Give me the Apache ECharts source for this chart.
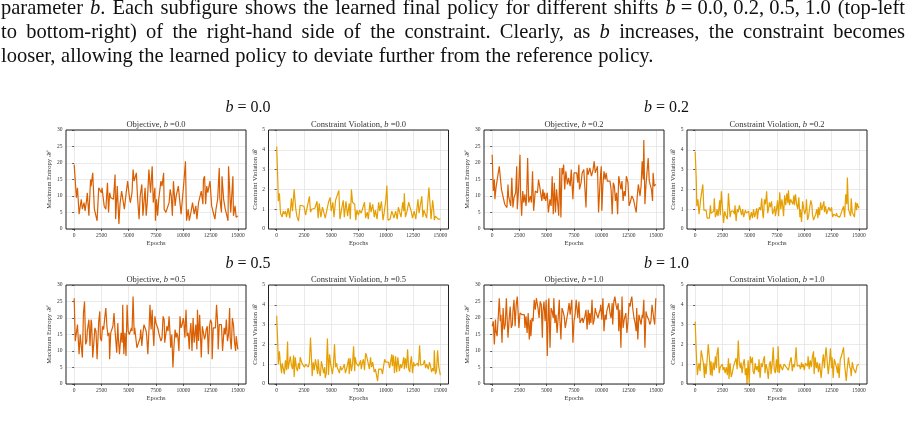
<!DOCTYPE html>
<html>
<head>
<meta charset="utf-8">
<style>
  html, body { margin: 0; padding: 0; background: #fff; }
  #main { width: 914px; height: 433px; }
</style>
</head>
<body>
<div id="main"></div>
<script src="https://cdn.jsdelivr.net/npm/echarts@6/dist/echarts.min.js"></script>
<script>
  // tick labels shared by all panels
  const epochTicks = [0, 2500, 5000, 7500, 10000, 12500, 15000];
  const shifts = ['0.0', '0.2', '0.5', '1.0'];

  // [epoch, value]
  const obj00 = [[0,19.5],[50,17],[200,9.5],[300,12.5],[450,4.5],[600,4],[650,9],[750,6],[900,8],[1000,5.5],
    [1150,9],[1200,11],[1350,4],[1500,15],[1550,13],[1700,17],[1850,6],[1950,5.5],[2100,2.5],[2250,12.5],
    [2400,13],[2500,11],[2550,12.5],[2750,7],[2900,6],[3050,14],[3150,5],[3250,11],[3350,9.5],[3450,10],
    [3600,9],[3750,16.5],[3800,3],[3950,13],[4100,1.5],[4200,7.5],[4350,11.5],[4450,12],[4600,6],[4750,10.5],[4900,14.5],
    [5050,10],[5150,8],[5300,11],[5400,18],[5500,14.5],[5700,17],[5800,10],[5950,3],[6050,10],[6200,13.5],
    [6300,4],[6500,12.5],[6600,4],[6700,8],[6850,18],[7000,11],[7150,19],[7250,8],[7400,12.5],[7450,2.5],
    [7550,9],[7650,4],[7750,9],[7950,14.5],[8050,13],[8200,17],[8250,6],[8400,5],[8550,5.5],[8700,8],
    [8800,12],[8900,10],[9000,4],[9100,14.5],[9250,7],[9350,10],[9450,10.5],[9550,13],[9650,9.5],[9800,4.5],[9950,5],
    [10050,14],[10200,20.5],[10300,2.5],[10450,6],[10550,2.5],[10700,5],[10850,8],[11000,4.5],[11150,7],[11250,3],
    [11400,8],[11550,8.5],[11650,11.5],[11800,7.5],[11850,15],[11950,16],[12050,7.5],[12150,13],[12250,11],[12450,14.5],
    [12600,7],[12750,5],[12900,3],[13000,6],[13150,9],[13300,18.5],[13350,9.5],[13500,5],[13550,16],[13700,9],
    [13850,6],[14000,4],[14100,2.5],[14150,19],[14350,5],[14550,16],[14600,4],[14750,7],[14850,3.5],[15000,4]];

  const con00 = [[0,4.17],[100,2.5],[150,1.4],[250,1.8],[350,0.8],[500,0.6],[600,0.9],[700,0.75],[800,0.9],[900,0.6],
    [1050,1.05],[1200,0.55],[1350,1.55],[1450,0.9],[1600,2.0],[1750,1.0],[1850,0.65],[2000,0.4],[2150,1.2],[2300,1.2],
    [2500,1.15],[2650,0.7],[2800,0.7],[3000,1.65],[3100,0.85],[3200,1.0],[3350,0.95],[3500,1.05],[3700,1.4],[3800,0.55],
    [3900,1.3],[4050,0.6],[4200,1.1],[4350,1.05],[4450,0.55],[4600,0.95],[4750,1.35],[4900,1.6],[5000,0.9],[5150,1.35],
    [5250,0.6],[5400,1.45],[5550,1.4],[5700,1.95],[5800,0.5],[5950,1.0],[6100,1.45],[6200,0.6],[6350,1.4],[6500,0.65],
    [6650,1.3],[6750,0.5],[6850,2.0],[6950,1.35],[7150,1.25],[7250,0.45],[7350,0.95],[7500,0.7],[7600,0.95],[7750,0.8],
    [7900,0.9],[8050,1.35],[8150,0.55],[8300,0.85],[8400,0.5],[8550,1.35],[8650,0.85],[8800,1.25],[8950,0.6],[9050,0.95],
    [9200,0.5],[9350,1.35],[9450,0.9],[9600,1.4],[9750,0.45],[9850,0.8],[10000,1.45],[10100,2.2],[10200,0.45],[10300,0.5],
    [10400,0.5],[10550,0.9],[10650,0.75],[10750,0.55],[10900,0.9],[11050,0.5],[11150,1.1],[11300,0.8],[11400,0.6],[11550,1.35],
    [11650,0.9],[11700,1.8],[11800,0.6],[11950,0.9],[12100,1.35],[12200,1.25],[12350,0.85],[12450,0.55],[12600,0.9],[12750,0.5],
    [12850,1.0],[12950,1.5],[13050,0.8],[13200,1.3],[13300,1.65],[13400,0.6],[13500,0.95],[13600,1.05],[13750,0.55],[13850,0.5],
    [13950,2.1],[14100,0.95],[14150,0.5],[14300,1.45],[14400,0.9],[14450,0.45],[14550,0.65],[14700,0.55],[14800,0.5],[15000,0.5]];

  const obj02 = [[0,22.5],[100,11.5],[200,15],[250,9],[350,12.5],[500,13],[650,19],[750,18.5],[850,12],[1000,12],
    [1150,7.5],[1200,7],[1350,6.5],[1450,13.5],[1500,10],[1600,10.5],[1700,7],[1800,15.5],[1900,6.5],[2000,9.5],
    [2150,11],[2250,19],[2300,6],[2400,11],[2550,22.5],[2600,11],[2700,4],[2800,11.5],[2900,8],[3000,10.5],
    [3100,7],[3150,9],[3250,21.5],[3350,8],[3500,10],[3600,8],[3700,17.5],[3800,5.5],[3950,11.5],[4050,11],
    [4150,11],[4250,15],[4350,13],[4450,13.5],[4550,8.5],[4650,12],[4750,9],[4800,11],[4900,8.5],[5050,11],
    [5150,5],[5300,9],[5400,7],[5500,16],[5600,4.5],[5700,14],[5800,5],[5900,12],[6000,8],[6100,4],
    [6200,18.5],[6300,3.5],[6400,18.5],[6450,16.5],[6550,19.5],[6650,12],[6750,17.5],[6900,13.5],[7000,15.5],[7150,13],
    [7250,18],[7400,9],[7500,17],[7650,16.5],[7750,17],[7850,14],[7950,19.5],[8000,12],[8150,14],[8250,17],
    [8400,18],[8550,17.5],[8600,6.5],[8700,18.5],[8800,16.5],[8950,18.5],[9100,16],[9250,18],[9350,20.5],[9450,17],
    [9600,17.5],[9650,19],[9750,5],[9900,15],[10000,19],[10050,5.5],[10150,13.5],[10250,17.5],[10350,15],[10450,17],
    [10550,14.5],[10700,15],[10800,14.5],[10900,12],[11000,4.5],[11100,14],[11200,13],[11300,8.5],[11400,11],[11500,4.5],
    [11600,16],[11700,14],[11800,12],[11900,14.5],[12000,8.5],[12100,11.5],[12200,10],[12300,16],[12450,14],[12550,7],
    [12650,8],[12800,10],[12950,9],[13100,9],[13200,5],[13300,10],[13400,13.5],[13550,10],[13650,13],[13750,20.5],
    [13850,15],[13900,27],[14000,7.5],[14100,13.5],[14200,13],[14300,21.5],[14400,14.5],[14500,15],[14600,12],[14700,8.5],
    [14750,17],[14850,13],[15000,13.5]];

  const con02 = [[0,3.9],[100,2.5],[150,1.15],[250,1.5],[350,0.75],[450,1.2],[500,1.5],[650,1.6],[700,2.25],[800,0.95],
    [900,0.9],[1000,0.95],[1100,0.55],[1200,0.45],[1300,0.55],[1400,1.2],[1450,0.8],[1550,0.75],[1700,0.9],[1750,1.55],
    [1850,0.6],[1950,0.75],[2000,1.0],[2100,0.65],[2250,1.45],[2300,0.7],[2400,1.9],[2500,1.1],[2600,0.3],[2700,0.9],
    [2800,0.7],[2900,0.8],[2950,0.5],[3050,1.8],[3100,1.7],[3200,0.6],[3300,0.9],[3400,0.8],[3500,0.9],[3600,0.75],
    [3650,1.2],[3750,0.4],[3850,1.0],[3950,0.85],[4050,1.2],[4150,1.3],[4250,0.7],[4350,1.0],[4450,0.6],[4600,0.95],
    [4700,0.8],[4750,0.75],[4900,0.9],[5000,0.45],[5100,0.35],[5150,0.85],[5250,0.55],[5350,1.0],[5450,0.6],[5550,0.6],
    [5650,1.05],[5700,0.5],[5800,0.95],[5900,1.1],[6000,0.95],[6100,1.55],[6200,0.7],[6250,0.55],[6350,1.5],[6450,1.25],
    [6550,1.9],[6650,0.8],[6750,1.1],[6800,1.35],[6900,1.1],[7000,1.4],[7100,0.75],[7200,0.9],[7300,1.15],[7350,0.65],
    [7450,0.95],[7550,1.45],[7650,0.65],[7750,1.85],[7850,1.0],[7950,1.5],[8000,1.3],[8100,0.65],[8200,1.7],[8300,1.2],
    [8400,1.8],[8500,1.3],[8550,1.95],[8650,1.2],[8750,1.5],[8850,1.6],[8950,1.25],[9050,1.7],[9100,1.2],[9200,1.75],
    [9300,1.25],[9400,1.0],[9500,1.6],[9600,0.6],[9650,1.0],[9750,0.35],[9850,1.4],[9950,1.0],[10050,0.75],[10150,1.0],
    [10200,1.5],[10300,0.45],[10400,0.65],[10500,1.1],[10600,1.45],[10700,1.2],[10750,0.75],[10850,0.45],[10950,0.4],[11050,0.75],
    [11150,1.0],[11250,0.55],[11300,1.1],[11400,0.7],[11500,1.35],[11600,0.95],[11700,1.0],[11800,1.4],[11850,0.85],[11950,1.15],
    [12050,0.75],[12150,0.65],[12250,1.1],[12350,1.0],[12400,0.9],[12500,1.1],[12600,0.6],[12700,0.75],[12800,0.7],[12900,0.65],
    [12950,0.8],[13050,0.65],[13150,0.75],[13250,0.6],[13350,0.75],[13450,0.7],[13500,0.65],[13600,1.15],[13700,0.6],[13800,1.75],
    [13900,1.25],[13950,2.6],[14050,1.0],[14150,0.95],[14250,0.65],[14300,1.55],[14400,0.85],[14500,0.95],[14600,0.6],[14700,1.35],
    [14800,0.95],[14850,1.3],[15000,1.05]];

  const obj05 = [[0,26],[100,13],[200,13],[300,18],[350,17.5],[450,9],[550,15],[650,14.5],[750,8],[850,21.5],
    [950,25],[1050,12],[1150,13],[1200,16],[1350,19.5],[1450,11.5],[1550,19.5],[1600,18.5],[1700,8],[1800,8],
    [1900,17],[2000,16],[2100,7.5],[2250,19],[2350,22],[2400,14],[2500,13],[2600,17.5],[2700,16.5],[2800,20],
    [2900,23],[3000,17.5],[3100,14.5],[3200,15.5],[3250,7.5],[3350,15.5],[3450,15],[3550,17.5],[3650,21.5],[3750,16],
    [3900,9.5],[4000,18.5],[4050,14],[4150,9],[4300,15.5],[4400,12.5],[4450,24],[4550,9],[4650,15.5],[4750,8.5],
    [4850,24],[4950,16],[5050,15],[5150,15],[5250,17],[5300,16],[5400,26.5],[5500,15],[5550,17],[5650,17.5],
    [5750,11],[5850,10.5],[5950,13],[6050,14],[6100,16.5],[6200,11.5],[6300,15.5],[6400,18],[6500,17.5],[6600,16],
    [6650,14.5],[6750,9],[6850,16],[6950,24],[7050,16.5],[7150,22.5],[7200,17.5],[7300,11.5],[7400,20.5],[7500,18.5],
    [7600,17.5],[7700,16.5],[7750,15.5],[7850,16],[7950,13],[8050,14],[8150,20.5],[8250,19.5],[8300,12.5],[8400,15],
    [8500,17.5],[8600,16],[8700,20.5],[8800,14.5],[8850,11],[8950,15],[9050,5],[9150,11.5],[9250,16.5],[9350,14],
    [9400,15.5],[9500,14.5],[9600,10],[9700,20.5],[9800,17],[9900,18],[10000,20],[10050,19],[10150,14],[10250,22.5],
    [10350,14.5],[10450,15.5],[10550,10.5],[10600,15],[10700,18.5],[10800,10],[10900,20],[11000,12.5],[11100,12],[11150,18],
    [11250,10.5],[11300,22.5],[11400,13],[11500,21],[11550,17],[11650,8],[11750,17.5],[11850,18],[11950,13.5],[12050,15],
    [12100,16.5],[12200,17.5],[12300,9],[12400,17.5],[12500,19.5],[12600,18.5],[12650,7.5],[12750,17],[12850,17.5],[12950,17],
    [13050,24],[13150,18.5],[13200,10.5],[13300,18],[13400,17.5],[13500,18],[13600,10],[13700,10.5],[13750,17],[13850,15],
    [13950,19.5],[14050,13],[14150,15],[14250,23],[14300,14],[14400,10.5],[14500,20],[14600,18],[14700,12.5],[14800,10],
    [14850,14.5],[15000,10.5]];

  const con05 = [[0,3.45],[100,2.0],[150,1.0],[250,1.65],[350,0.95],[450,0.55],[500,1.05],[600,0.8],[700,0.5],[800,1.2],
    [900,0.7],[1000,2.15],[1050,0.75],[1150,0.85],[1250,1.4],[1350,0.95],[1450,0.75],[1550,1.45],[1600,0.35],[1700,1.35],
    [1800,0.85],[1900,0.65],[2000,1.05],[2100,0.75],[2150,1.35],[2250,1.45],[2350,1.0],[2450,0.95],[2550,0.85],[2650,1.0],
    [2700,0.9],[2800,1.0],[2900,0.85],[3000,1.1],[3100,2.35],[3200,1.2],[3250,0.4],[3350,1.1],[3450,0.7],[3550,1.25],
    [3650,0.9],[3750,0.5],[3800,1.25],[3900,0.65],[4000,0.4],[4100,1.15],[4200,1.25],[4300,0.55],[4400,0.85],[4450,0.3],
    [4550,0.55],[4650,2.3],[4750,0.45],[4850,1.5],[4950,1.0],[5000,0.85],[5100,0.5],[5200,0.9],[5300,2.0],[5400,0.85],
    [5500,1.05],[5550,0.85],[5650,0.7],[5750,0.55],[5850,0.9],[5950,0.7],[6050,0.65],[6100,0.85],[6200,1.0],[6300,0.55],
    [6400,0.75],[6500,1.0],[6600,1.3],[6650,0.5],[6750,1.3],[6850,0.65],[6950,1.0],[7050,1.9],[7150,0.65],[7200,1.35],
    [7300,1.05],[7400,1.15],[7500,0.9],[7600,0.8],[7700,1.2],[7750,0.75],[7850,1.05],[7950,1.25],[8050,0.7],[8150,1.55],
    [8250,1.4],[8300,1.35],[8400,1.3],[8500,0.75],[8600,1.35],[8700,0.85],[8800,1.1],[8850,1.05],[8950,0.6],[9050,0.75],
    [9150,0.85],[9250,0.15],[9350,0.75],[9400,0.8],[9500,0.8],[9600,0.75],[9700,0.5],[9800,0.9],[9900,1.25],[10000,1.1],
    [10050,1.0],[10150,1.1],[10250,1.1],[10350,0.8],[10450,0.7],[10550,1.5],[10600,0.9],[10700,1.45],[10800,0.55],[10900,1.4],
    [11000,0.6],[11100,1.35],[11150,1.3],[11250,0.65],[11350,1.0],[11450,0.8],[11550,1.05],[11650,1.35],[11700,0.75],[11800,1.3],
    [11900,0.8],[12000,1.75],[12100,0.75],[12200,0.6],[12250,1.0],[12350,1.4],[12450,0.55],[12550,1.1],[12650,0.9],[12750,0.85],
    [12800,0.8],[12900,1.05],[13000,0.9],[13100,1.95],[13200,0.95],[13300,0.85],[13350,0.9],[13450,1.0],[13550,1.2],[13650,0.8],
    [13750,1.0],[13850,0.95],[13900,0.75],[14000,1.1],[14100,0.9],[14200,0.6],[14300,0.8],[14400,0.65],[14450,1.7],[14550,0.5],
    [14650,0.65],[14750,1.7],[14850,0.9],[15000,0.45]];

  const obj10 = [[0,17.5],[100,19],[200,12],[300,19.5],[350,16],[450,14.5],[550,20],[650,26],[750,19],[800,21],
    [900,12.5],[1000,23],[1100,16.5],[1200,18],[1300,26],[1350,21.5],[1450,14],[1550,19.5],[1650,23.5],[1750,17],
    [1850,18],[1900,22],[2000,25.5],[2100,17.5],[2200,24],[2300,26.5],[2400,26],[2450,17],[2550,21.5],[2650,22],
    [2750,21],[2850,20.5],[2950,21],[3000,17],[3100,20.5],[3200,15.5],[3300,21.5],[3400,13.5],[3500,19.5],[3550,14.5],
    [3650,20],[3750,19],[3850,25.5],[3950,22.5],[4050,26],[4100,25],[4200,23],[4300,20],[4400,25],[4500,24],
    [4600,14],[4650,22],[4750,25],[4850,19],[4950,25.5],[5050,8.5],[5150,24],[5200,26],[5300,11],[5400,23],
    [5500,22],[5600,20],[5650,26],[5750,18.5],[5850,21],[5950,15.5],[6050,20],[6150,25.5],[6200,20],[6300,13.5],
    [6400,23],[6500,22],[6600,20.5],[6700,17],[6750,17.5],[6850,20],[6950,22],[7050,24.5],[7150,21],[7250,24.5],
    [7300,25.5],[7400,12.5],[7500,19],[7600,21],[7700,25.5],[7800,22],[7850,20],[7950,25],[8050,18.5],[8150,19],
    [8250,20],[8350,18.5],[8400,19.5],[8500,20.5],[8600,22.5],[8700,16.5],[8800,22.5],[8900,18],[8950,21.5],[9050,18.5],
    [9150,25.5],[9250,18],[9350,19.5],[9450,23],[9500,22],[9600,22.5],[9700,20],[9800,21.5],[9900,22.5],[9950,24],
    [10050,19.5],[10150,26],[10250,16],[10350,21],[10450,19.5],[10500,22],[10600,22.5],[10700,24.5],[10800,21.5],[10900,20],
    [11000,24.5],[11050,18],[11150,25],[11250,26.5],[11350,24],[11450,22.5],[11550,24.5],[11600,16],[11700,22.5],[11800,11],
    [11900,26.5],[12000,17],[12100,19.5],[12150,19.5],[12250,21.5],[12350,15.5],[12450,19],[12550,24.5],[12650,23.5],[12700,25],
    [12800,26.5],[12900,22.5],[13000,20],[13100,18.5],[13200,16],[13250,23],[13350,13.5],[13450,21],[13550,20.5],[13650,18],
    [13750,21],[13800,20],[13900,25.5],[14000,11],[14100,22],[14200,20.5],[14300,21],[14350,19.5],[14450,18],[14550,19],
    [14650,24],[14750,21.5],[14800,20],[14900,18],[15000,26]];

  const con10 = [[0,3.15],[100,1.6],[200,0.45],[300,0.9],[350,1.05],[450,0.65],[550,1.7],[650,1.4],[750,1.05],[850,0.3],
    [900,1.05],[1000,0.5],[1100,1.25],[1200,2.0],[1300,1.35],[1400,0.45],[1450,1.15],[1550,0.4],[1650,1.1],[1750,0.7],
    [1850,1.4],[1950,0.8],[2000,1.55],[2100,1.85],[2200,0.55],[2300,0.85],[2400,0.95],[2500,1.0],[2550,0.7],[2650,0.85],
    [2750,0.55],[2850,0.85],[2950,0.45],[3050,1.3],[3100,0.25],[3200,1.05],[3300,0.35],[3400,0.55],[3500,0.85],[3600,1.05],
    [3650,1.1],[3750,1.3],[3850,0.75],[3950,2.2],[4050,1.0],[4150,0.8],[4200,1.1],[4300,0.55],[4400,1.0],[4500,1.25],
    [4600,0.45],[4700,0.8],[4750,0.0],[4850,1.2],[4950,0.05],[5050,1.4],[5150,1.05],[5250,1.35],[5300,0.65],[5400,0.5],
    [5500,1.05],[5600,0.7],[5700,0.9],[5800,0.6],[5850,1.25],[5950,0.3],[6050,1.05],[6150,0.85],[6250,1.2],[6350,1.4],
    [6400,0.55],[6500,1.0],[6600,0.75],[6700,0.25],[6800,1.0],[6900,1.15],[6950,0.5],[7050,0.95],[7150,1.85],[7250,0.7],
    [7350,0.55],[7450,1.25],[7550,0.6],[7600,1.9],[7700,0.55],[7800,1.0],[7900,1.05],[8000,0.7],[8100,0.6],[8150,1.0],
    [8250,1.05],[8350,0.85],[8450,0.9],[8550,0.7],[8650,1.0],[8700,1.15],[8800,1.35],[8900,0.65],[9000,1.0],[9100,0.85],
    [9200,1.45],[9250,1.85],[9350,0.9],[9450,1.0],[9550,0.95],[9650,0.75],[9750,1.1],[9800,0.85],[9900,1.0],[10000,0.7],
    [10100,1.05],[10200,1.15],[10300,0.9],[10350,1.4],[10450,0.75],[10550,1.2],[10650,0.85],[10750,1.4],[10850,1.65],[10900,0.5],
    [11000,1.35],[11100,0.8],[11200,1.1],[11300,0.6],[11400,1.05],[11450,0.95],[11550,0.3],[11650,1.0],[11750,1.5],[11850,0.8],
    [11950,1.6],[12000,1.85],[12100,1.15],[12200,0.5],[12300,1.05],[12400,1.8],[12500,0.8],[12550,1.35],[12650,0.3],[12750,1.25],
    [12850,1.15],[12950,0.85],[13050,0.55],[13100,1.05],[13200,0.3],[13300,1.25],[13400,1.4],[13500,1.3],[13600,1.85],[13700,0.95],
    [13750,0.9],[13850,0.15],[13950,0.85],[14050,1.35],[14150,0.9],[14250,0.75],[14300,0.4],[14400,1.1],[14500,0.8],[14600,0.85],
    [14700,0.55],[14800,0.6],[14850,0.95],[15000,1.0]];

  const paragraph = [
    ['parameter', '*b*.', 'Each', 'subfigure', 'shows', 'the', 'learned', 'final', 'policy', 'for', 'different',
      'shifts', '*b*~=~0.0,~0.2,~0.5,~1.0', '(top-left'],
    ['to', 'bottom-right)', 'of', 'the', 'right-hand', 'side', 'of', 'the', 'constraint.', 'Clearly,', 'as', '*b*',
      'increases,', 'the', 'constraint', 'becomes'],
    ['looser,', 'allowing', 'the', 'learned', 'policy', 'to', 'deviate', 'further', 'from', 'the', 'reference', 'policy.']
  ];

  const panels = [
    { b: 0, kind: 'obj', data: obj00, col: 0, row: 0 },
    { b: 0, kind: 'con', data: con00, col: 1, row: 0 },
    { b: 1, kind: 'obj', data: obj02, col: 2, row: 0 },
    { b: 1, kind: 'con', data: con02, col: 3, row: 0 },
    { b: 2, kind: 'obj', data: obj05, col: 0, row: 1 },
    { b: 2, kind: 'con', data: con05, col: 1, row: 1 },
    { b: 3, kind: 'obj', data: obj10, col: 2, row: 1 },
    { b: 3, kind: 'con', data: con10, col: 3, row: 1 }
  ];

  const FONT = '"Liberation Serif", "DejaVu Serif", serif';
  const W = 180, H = 99;
  const colLeft = [66, 268.5, 484, 687];
  const rowTop = [130, 285];
  const groupX = [248, 666.5];
  const groupY = [108, 263.5];

  var chartDom = document.getElementById('main');
  var myChart = echarts.init(chartDom);

  const grid = [], xAxis = [], yAxis = [], series = [], graphic = [];

  panels.forEach((p, i) => {
    const left = colLeft[p.col], top = rowTop[p.row];
    const isObj = p.kind === 'obj';
    const color = isObj ? '#d95f02' : '#e69f00';
    grid.push({ left: left, top: top, width: W, height: H });
    xAxis.push({
      type: 'value', gridIndex: i, min: -750, max: 15750,
      name: 'Epochs', nameLocation: 'middle', nameGap: 10,
      nameTextStyle: { fontFamily: FONT, fontSize: 6.5, color: '#333' },
      axisLine: { show: false },
      axisTick: { show: true, length: 2, customValues: epochTicks, lineStyle: { color: '#333', width: 0.8 } },
      axisLabel: { customValues: epochTicks, formatter: (v) => String(v), fontFamily: FONT, fontSize: 5.5, color: '#333', margin: 3.5 },
      splitLine: { show: true, lineStyle: { color: '#e4e4e4', width: 0.8 } }
    });
    yAxis.push({
      type: 'value', gridIndex: i, min: 0, max: isObj ? 30 : 5, interval: isObj ? 5 : 1,
      name: isObj ? 'Maximum Entropy ℋ' : 'Constraint Violation ℛ',
      nameLocation: 'middle', nameRotate: 90, nameGap: isObj ? 12.5 : 9,
      nameTextStyle: { fontFamily: FONT, fontSize: 6.5, color: '#333' },
      axisLine: { show: false },
      axisTick: { show: true, length: 2, lineStyle: { color: '#333', width: 0.8 } },
      axisLabel: { fontFamily: FONT, fontSize: 5.5, color: '#333', margin: 3.5 },
      splitLine: { show: true, lineStyle: { color: '#e4e4e4', width: 0.8 } }
    });
    series.push({
      type: 'line', xAxisIndex: i, yAxisIndex: i, data: p.data,
      showSymbol: false, symbol: 'none', silent: true,
      lineStyle: { width: 1.2, color: color }, itemStyle: { color: color }
    });
    // axes box
    graphic.push({
      type: 'rect', z: 100, silent: true,
      shape: { x: left, y: top, width: W, height: H },
      style: { fill: 'none', stroke: '#222', lineWidth: 1 }
    });
    // panel title
    graphic.push({
      type: 'text', z: 100, silent: true, x: left + W / 2, y: top - 5.5,
      style: {
        text: '{r|' + (isObj ? 'Objective, ' : 'Constraint Violation, ') + '}{i|b}{r| =' + shifts[p.b] + '}',
        align: 'center', verticalAlign: 'middle',
        rich: {
          r: { fontFamily: FONT, fontSize: 8.5, fill: '#333' },
          i: { fontFamily: FONT, fontSize: 8.5, fontStyle: 'italic', fill: '#333' }
        }
      }
    });
  });

  // group headings b = ...
  shifts.forEach((s, k) => {
    graphic.push({
      type: 'text', silent: true, x: groupX[k % 2], y: groupY[Math.floor(k / 2)],
      style: {
        text: '{i|b}{r| = ' + s + '}', align: 'center', verticalAlign: 'middle',
        rich: {
          r: { fontFamily: FONT, fontSize: 16, fill: '#111' },
          i: { fontFamily: FONT, fontSize: 16, fontStyle: 'italic', fill: '#111' }
        }
      }
    });
  });

  // caption paragraph, justified like the page
  const ctx = document.createElement('canvas').getContext('2d');
  function parse(tok) {
    return tok.replace(/~/g, ' ').split('*').map((t, j) => ({ t: t, i: j % 2 === 1 })).filter(s => s.t.length);
  }
  function segW(s, fs) {
    ctx.font = (s.i ? 'italic ' : '') + fs + 'px ' + FONT;
    return ctx.measureText(s.t).width;
  }
  function tokW(tok, fs) { return parse(tok).reduce((a, s) => a + segW(s, fs), 0); }
  function lineW(line, fs) {
    return line.reduce((a, t) => a + tokW(t, fs), 0) + (line.length - 1) * segW({ t: ' ', i: false }, fs);
  }
  // largest size that still lets every line fit its measured width
  const fs = Math.min(17 * 686 / lineW(paragraph[2], 17), 17 * 880 / lineW(paragraph[0], 17),
    17 * 880 / lineW(paragraph[1], 17));
  const lineY = [9, 33, 57];
  paragraph.forEach((line, li) => {
    const words = line.reduce((a, t) => a + tokW(t, fs), 0);
    const gap = li < 2 ? (904 - words) / (line.length - 1) : segW({ t: ' ', i: false }, fs) * 1.1;
    let x = 1;
    line.forEach((tok) => {
      parse(tok).forEach((s) => {
        graphic.push({
          type: 'text', silent: true, x: x, y: lineY[li],
          style: { text: s.t, fontFamily: FONT, fontSize: fs, fontStyle: s.i ? 'italic' : 'normal',
            fill: '#111', align: 'left', verticalAlign: 'middle' }
        });
        x += segW(s, fs);
      });
      x += gap;
    });
  });

  var option = {
    animation: false,
    grid: grid,
    xAxis: xAxis,
    yAxis: yAxis,
    series: series,
    graphic: graphic
  };

  option && myChart.setOption(option);

  window.onresize = function () {
    myChart.resize();
  };
</script>
</body>
</html>
